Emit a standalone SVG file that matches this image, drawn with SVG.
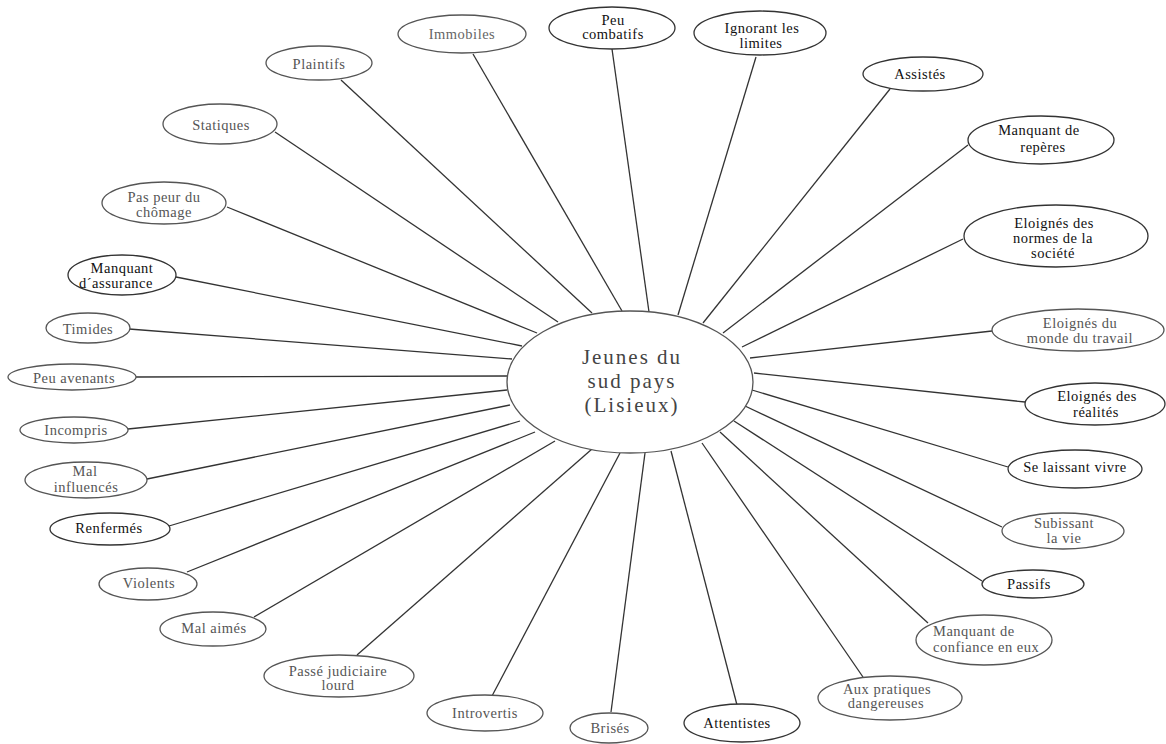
<svg xmlns="http://www.w3.org/2000/svg" width="1166" height="744" viewBox="0 0 1166 744">
<style>
.bg{fill:#fff}
.n{fill:#fff;stroke:#555;stroke-width:1.3}
.nd{fill:#fff;stroke:#333;stroke-width:1.3}
.c line{stroke:#333;stroke-width:1.3}
text{font-family:"Liberation Serif","Times New Roman",serif;font-size:14.5px;text-anchor:middle;letter-spacing:0.5px}
.g{fill:#555}
.d{fill:#111}
.ctr{font-size:21px;fill:#444;letter-spacing:2px}
</style>
<rect class="bg" x="0" y="0" width="1166" height="744"/>
<g id="connectors" class="c">
<line x1="341" y1="80" x2="592" y2="313"/>
<line x1="275" y1="132" x2="558" y2="322"/>
<line x1="227" y1="207" x2="537" y2="333"/>
<line x1="176" y1="277" x2="522" y2="346"/>
<line x1="129" y1="329" x2="512" y2="359"/>
<line x1="136" y1="377" x2="507" y2="376"/>
<line x1="128" y1="429" x2="507" y2="390"/>
<line x1="147" y1="479" x2="510" y2="405"/>
<line x1="169" y1="526" x2="520" y2="421"/>
<line x1="187" y1="572" x2="535" y2="432"/>
<line x1="254" y1="617" x2="555" y2="441"/>
<line x1="357" y1="655" x2="592" y2="449"/>
<line x1="492" y1="696" x2="620" y2="453"/>
<line x1="611" y1="712" x2="645" y2="453"/>
<line x1="737" y1="705" x2="671" y2="451"/>
<line x1="863" y1="677" x2="702" y2="443"/>
<line x1="928" y1="623" x2="720" y2="432"/>
<line x1="982" y1="581" x2="734" y2="421"/>
<line x1="1002" y1="527" x2="745" y2="406"/>
<line x1="1008" y1="467" x2="752" y2="390"/>
<line x1="1025" y1="402" x2="754" y2="373"/>
<line x1="992" y1="331" x2="750" y2="358"/>
<line x1="963" y1="239" x2="742" y2="347"/>
<line x1="968" y1="145" x2="723" y2="333"/>
<line x1="890" y1="89" x2="703" y2="323"/>
<line x1="756" y1="57" x2="678" y2="315"/>
<line x1="612" y1="49" x2="649" y2="312"/>
<line x1="473" y1="54" x2="622" y2="311"/>
</g>
<g id="center">
<ellipse class="n" cx="630" cy="382" rx="123" ry="71"/>
<text class="ctr" x="632" y="364">Jeunes du</text>
<text class="ctr" x="632" y="388">sud pays</text>
<text class="ctr" x="632" y="412">(Lisieux)</text>
</g>
<g id="plaintifs"><ellipse class="n" cx="319" cy="63" rx="53" ry="17"/><text class="g" x="319" y="69">Plaintifs</text></g>
<g id="statiques"><ellipse class="n" cx="220" cy="124" rx="57" ry="20"/><text class="g" x="221" y="130">Statiques</text></g>
<g id="pas-peur"><ellipse class="n" cx="164" cy="203" rx="62" ry="21"/><text class="g" x="164" y="202">Pas peur du</text><text class="g" x="164" y="217">chômage</text></g>
<g id="manquant-assurance"><ellipse class="nd" cx="122" cy="275" rx="54" ry="20"/><text class="d" x="122" y="273">Manquant</text><text class="d" x="116" y="288">d´assurance</text></g>
<g id="timides"><ellipse class="n" cx="88" cy="328" rx="42" ry="15"/><text class="g" x="88" y="334">Timides</text></g>
<g id="peu-avenants"><ellipse class="n" cx="72" cy="377" rx="64" ry="13"/><text class="g" x="74" y="383">Peu avenants</text></g>
<g id="incompris"><ellipse class="n" cx="74" cy="430" rx="54" ry="13"/><text class="g" x="76" y="435">Incompris</text></g>
<g id="mal-influences"><ellipse class="n" cx="86" cy="480" rx="61" ry="18"/><text class="g" x="85" y="476">Mal</text><text class="g" x="86" y="492">influencés</text></g>
<g id="renfermes"><ellipse class="nd" cx="110" cy="529" rx="60" ry="16"/><text class="d" x="109" y="533">Renfermés</text></g>
<g id="violents"><ellipse class="n" cx="148" cy="584" rx="49" ry="16"/><text class="g" x="149" y="588">Violents</text></g>
<g id="mal-aimes"><ellipse class="n" cx="213" cy="629" rx="53" ry="17"/><text class="g" x="214" y="633">Mal aimés</text></g>
<g id="passe-judiciaire"><ellipse class="n" cx="339" cy="676" rx="75" ry="21"/><text class="g" x="338" y="676">Passé judiciaire</text><text class="g" x="338" y="690">lourd</text></g>
<g id="introvertis"><ellipse class="n" cx="485" cy="713" rx="58" ry="18"/><text class="g" x="485" y="718">Introvertis</text></g>
<g id="brises"><ellipse class="n" cx="609" cy="728" rx="39" ry="15"/><text class="g" x="610" y="733">Brisés</text></g>
<g id="attentistes"><ellipse class="nd" cx="742" cy="723" rx="58" ry="19"/><text class="d" x="737" y="728">Attentistes</text></g>
<g id="aux-pratiques"><ellipse class="n" cx="890" cy="698" rx="72" ry="22"/><text class="g" x="887" y="694">Aux pratiques</text><text class="g" x="886" y="708">dangereuses</text></g>
<g id="manquant-confiance"><ellipse class="n" cx="984" cy="640" rx="68" ry="25"/><text class="g" x="933" y="636" style="text-anchor:start">Manquant de</text><text class="g" x="933" y="652" style="text-anchor:start">confiance en eux</text></g>
<g id="passifs"><ellipse class="nd" cx="1033" cy="584" rx="51" ry="14"/><text class="d" x="1029" y="589">Passifs</text></g>
<g id="subissant"><ellipse class="n" cx="1063" cy="531" rx="61" ry="18"/><text class="g" x="1064" y="528">Subissant</text><text class="g" x="1064" y="543">la vie</text></g>
<g id="se-laissant"><ellipse class="nd" cx="1075" cy="469" rx="67" ry="19"/><text class="d" x="1075" y="472">Se laissant vivre</text></g>
<g id="eloignes-realites"><ellipse class="nd" cx="1095" cy="404" rx="70" ry="21"/><text class="d" x="1097" y="401">Eloignés des</text><text class="d" x="1096" y="417">réalités</text></g>
<g id="eloignes-monde"><ellipse class="n" cx="1078" cy="330" rx="86" ry="21"/><text class="g" x="1080" y="328">Eloignés du</text><text class="g" x="1080" y="343">monde du travail</text></g>
<g id="eloignes-normes"><ellipse class="nd" cx="1056" cy="236" rx="92" ry="31"/><text class="d" x="1054" y="228">Eloignés des</text><text class="d" x="1053" y="243">normes de la</text><text class="d" x="1053" y="258">société</text></g>
<g id="manquant-reperes"><ellipse class="nd" cx="1041" cy="140" rx="73" ry="24"/><text class="d" x="1039" y="135">Manquant de</text><text class="d" x="1043" y="152">repères</text></g>
<g id="assistes"><ellipse class="nd" cx="923" cy="74" rx="60" ry="17"/><text class="d" x="920" y="79">Assistés</text></g>
<g id="ignorant"><ellipse class="nd" cx="760" cy="33" rx="66" ry="22"/><text class="d" x="762" y="33">Ignorant les</text><text class="d" x="761" y="48">limites</text></g>
<g id="peu-combatifs"><ellipse class="nd" cx="612" cy="28" rx="63" ry="21"/><text class="d" x="613" y="25">Peu</text><text class="d" x="613" y="39">combatifs</text></g>
<g id="immobiles"><ellipse class="n" cx="462" cy="34" rx="64" ry="19"/><text class="g" x="462" y="39" style="fill:#666">Immobiles</text></g>
</svg>
